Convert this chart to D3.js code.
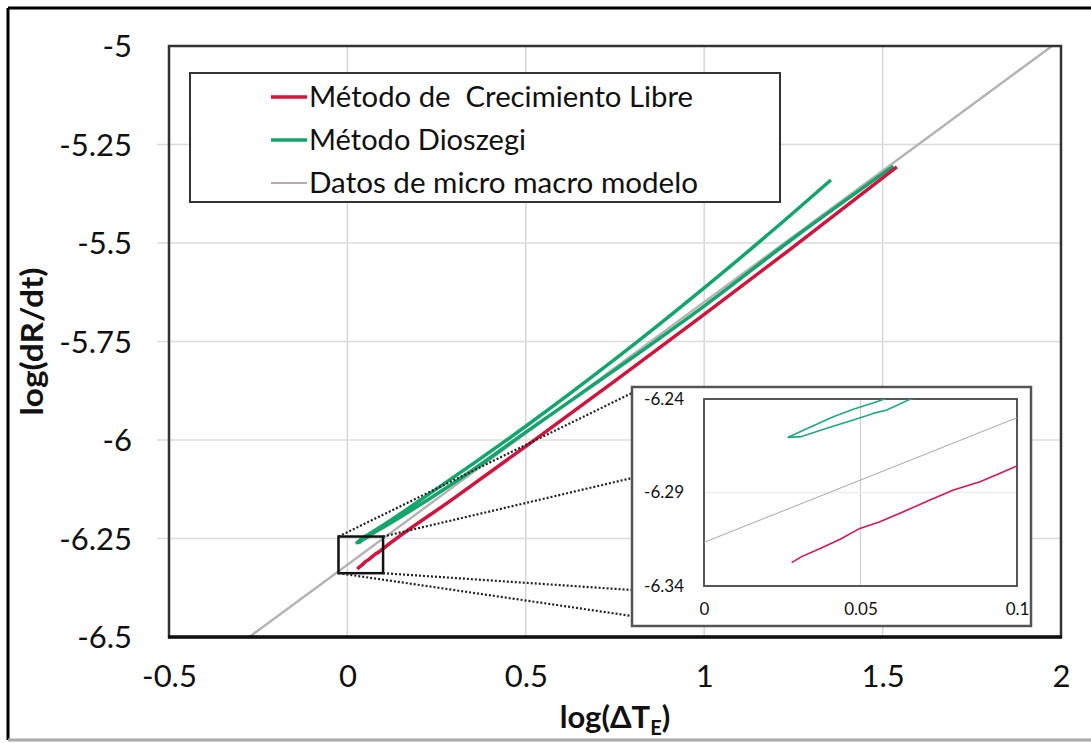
<!DOCTYPE html>
<html>
<head>
<meta charset="utf-8">
<script src="https://cdn.jsdelivr.net/npm/d3@7"></script>
<style>
  html, body { margin: 0; padding: 0; background: #fff; }
  svg { display: block; }
  text { font-family: Lato, "Open Sans", sans-serif; fill: #111; }
</style>
</head>
<body>
<svg id="chart" width="1091" height="743"></svg>
<script>
// ---------- DATA ----------
const seriesNames = ["Método de  Crecimiento Libre", "Método Dioszegi", "Datos de micro macro modelo"];

const xTickValues = [-0.5, 0, 0.5, 1, 1.5, 2];
const xTickLabels = ["-0.5", "0", "0.5", "1", "1.5", "2"];
const yTickValues = [-5, -5.25, -5.5, -5.75, -6, -6.25, -6.5];
const yTickLabels = ["-5", "-5.25", "-5.5", "-5.75", "-6", "-6.25", "-6.5"];

const insetXTickValues = [0, 0.05, 0.1];
const insetXTickLabels = ["0", "0.05", "0.1"];
const insetYTickValues = [-6.24, -6.29, -6.34];
const insetYTickLabels = ["-6.24", "-6.29", "-6.34"];

// Método de Crecimiento Libre (red)
const libreX = [0.028, 0.0312, 0.0371, 0.0435, 0.0498, 0.0562, 0.0637, 0.0722, 0.0797, 0.0882, 0.0946, 0.1, 0.3, 0.5, 0.75, 1.0, 1.25, 1.54];
const libreY = [-6.3275, -6.3243, -6.3199, -6.315, -6.3092, -6.3056, -6.3003, -6.294, -6.2887, -6.2842, -6.2797, -6.2758, -6.147, -6.016, -5.850, -5.681, -5.510, -5.307];

// Método Dioszegi (green) – a loop: lower branch down to the tip, then upper branch
const dioszegiX = [1.53, 1.25, 1.0, 0.75, 0.5, 0.3, 0.1, 0.0658, 0.0584, 0.0541, 0.0477, 0.0392, 0.0312, 0.0269, 0.0307, 0.0413, 0.0477, 0.0552, 0.25, 0.5, 0.75, 1.0, 1.2, 1.355];
const dioszegiY = [-5.305, -5.488, -5.66, -5.822, -5.98, -6.108, -6.222, -6.2402, -6.2459, -6.2477, -6.2512, -6.2557, -6.2601, -6.2605, -6.2575, -6.2495, -6.2455, -6.2415, -6.124, -5.965, -5.795, -5.614, -5.462, -5.34];

// Datos de micro macro modelo (gray)
const modeloX = [-0.275, 1.975];
const modeloY = [-6.5, -5.0];

// zoom window drawn on the main chart
const zoomBoxX = [-0.025, 0.1];
const zoomBoxY = [-6.338, -6.245];

// ---------- DRAW ----------
const svg = d3.select("#chart");
const W = 1091, H = 743;
const colors = { libre: "#d0143c", dios: "#13a56c", modelo: "#b3b3b3" };

// outer frame
svg.append("line").attr("x1", 8).attr("y1", 8).attr("x2", W).attr("y2", 8).attr("stroke", "#000").attr("stroke-width", 3);
svg.append("line").attr("x1", 8).attr("y1", 8).attr("x2", 8).attr("y2", 740).attr("stroke", "#000").attr("stroke-width", 3);
svg.append("line").attr("x1", 8).attr("y1", 740).attr("x2", W).attr("y2", 740).attr("stroke", "#aaa").attr("stroke-width", 3);

const x = d3.scaleLinear().domain([-0.5, 2]).range([169, 1061]);
const y = d3.scaleLinear().domain([-6.5, -5]).range([637, 46]);

// gridlines
const grid = svg.append("g");
grid.selectAll("line.v").data(xTickValues.filter(v => v > -0.5 && v < 2)).enter().append("line")
  .attr("x1", d => x(d)).attr("x2", d => x(d)).attr("y1", y(-5)).attr("y2", y(-6.5))
  .attr("stroke", "#d6d6d6").attr("stroke-width", 1.5);
grid.selectAll("line.h").data(yTickValues.filter(v => v > -6.5 && v < -5)).enter().append("line")
  .attr("x1", x(-0.5) - 12).attr("x2", x(2)).attr("y1", d => y(d)).attr("y2", d => y(d))
  .attr("stroke", "#dcdcdc").attr("stroke-width", 1.5);

// axes
const yAxis = d3.axisLeft(y).tickValues(yTickValues).tickFormat((d, i) => yTickLabels[i]).tickSize(0).tickPadding(37);
const gy = svg.append("g").attr("transform", `translate(${x(-0.5)},0)`).call(yAxis);
gy.select(".domain").remove();
gy.selectAll("text").style("font-size", "31px").style("font-family", "Lato, sans-serif").attr("fill", "#111").attr("dy", "0.35em");

const xAxis = d3.axisBottom(x).tickValues(xTickValues).tickFormat((d, i) => xTickLabels[i]).tickSize(0).tickPadding(39);
const gx = svg.append("g").attr("transform", `translate(0,${y(-6.5)})`).call(xAxis);
gx.select(".domain").remove();
gx.selectAll("text").style("font-size", "31px").style("font-family", "Lato, sans-serif").attr("fill", "#111").attr("dy", "0.35em");

// axis titles
const xt = svg.append("text").attr("x", 615).attr("y", 728).attr("text-anchor", "middle")
  .style("font-size", "31px").style("font-weight", "bold");
xt.append("tspan").text("log(ΔT");
xt.append("tspan").text("E").style("font-size", "20px").attr("dy", 7);
xt.append("tspan").text(")").attr("dy", -7);

svg.append("text").attr("transform", `translate(43,${(y(-5) + y(-6.5)) / 2}) rotate(-90)`)
  .attr("text-anchor", "middle").style("font-size", "30px").style("font-weight", "bold")
  .attr("textLength", 148).attr("lengthAdjust", "spacingAndGlyphs").text("log(dR/dt)");

// series
const line = d3.line().x(d => x(d[0])).y(d => y(d[1]));
const zipPts = (xs, ys) => xs.map((v, i) => [v, ys[i]]);

const clipMain = svg.append("clipPath").attr("id", "clipMain");
clipMain.append("rect").attr("x", x(-0.5)).attr("y", y(-5)).attr("width", x(2) - x(-0.5)).attr("height", y(-6.5) - y(-5));
const plot = svg.append("g").attr("clip-path", "url(#clipMain)");

plot.append("path").datum(zipPts(modeloX, modeloY)).attr("d", line)
  .attr("fill", "none").attr("stroke", colors.modelo).attr("stroke-width", 2.4);
plot.append("path").datum(zipPts(dioszegiX, dioszegiY)).attr("d", d3.line().x(d => x(d[0])).y(d => y(d[1])).curve(d3.curveMonotoneY))
  .attr("fill", "none").attr("stroke", colors.dios).attr("stroke-width", 3.5).attr("stroke-linejoin", "round");
plot.append("path").datum(zipPts(libreX, libreY)).attr("d", d3.line().x(d => x(d[0])).y(d => y(d[1])).curve(d3.curveMonotoneX))
  .attr("fill", "none").attr("stroke", colors.libre).attr("stroke-width", 3.5).attr("stroke-linejoin", "round");

// plot border
svg.append("rect").attr("x", x(-0.5)).attr("y", y(-5)).attr("width", x(2) - x(-0.5)).attr("height", y(-6.5) - y(-5))
  .attr("fill", "none").attr("stroke", "#333").attr("stroke-width", 2.5);
svg.append("line").attr("x1", x(-0.5) - 1).attr("x2", x(2) + 1).attr("y1", y(-6.5)).attr("y2", y(-6.5))
  .attr("stroke", "#111").attr("stroke-width", 3.5);

// zoom box on main chart
const zb = { x0: x(zoomBoxX[0]), x1: x(zoomBoxX[1]), y0: y(zoomBoxY[1]), y1: y(zoomBoxY[0]) };
svg.append("rect").attr("x", zb.x0).attr("y", zb.y0).attr("width", zb.x1 - zb.x0).attr("height", zb.y1 - zb.y0)
  .attr("fill", "none").attr("stroke", "#111").attr("stroke-width", 2.5);

// inset layout
const inset = { ox: 632, oy: 387, ow: 399, oh: 239 };
const ix = d3.scaleLinear().domain([0, 0.1]).range([704, 1017]);
const iy = d3.scaleLinear().domain([-6.34, -6.24]).range([586, 399]);

// dotted connectors
const connectors = [
  [[zb.x0, zb.y0], [inset.ox, inset.oy + 6]],
  [[zb.x1, zb.y0], [inset.ox, inset.oy + 91]],
  [[zb.x1, zb.y1], [inset.ox, inset.oy + 203]],
  [[zb.x0, zb.y1], [inset.ox, inset.oy + 229]]
];
svg.selectAll("line.conn").data(connectors).enter().append("line")
  .attr("x1", d => d[0][0]).attr("y1", d => d[0][1]).attr("x2", d => d[1][0]).attr("y2", d => d[1][1])
  .attr("stroke", "#222").attr("stroke-width", 2.2).attr("stroke-dasharray", "2,2");

// inset box
svg.append("rect").attr("x", inset.ox).attr("y", inset.oy).attr("width", inset.ow).attr("height", inset.oh)
  .attr("fill", "#fff").attr("stroke", "#555").attr("stroke-width", 2.5);

const ig = svg.append("g");
ig.append("line").attr("x1", ix(0.05)).attr("x2", ix(0.05)).attr("y1", iy(-6.24)).attr("y2", iy(-6.34))
  .attr("stroke", "#cfcfcf").attr("stroke-width", 1.2);
ig.append("line").attr("x1", ix(0)).attr("x2", ix(0.1)).attr("y1", iy(-6.29)).attr("y2", iy(-6.29))
  .attr("stroke", "#eeeeee").attr("stroke-width", 1.5);

const iclip = svg.append("clipPath").attr("id", "clipInset");
iclip.append("rect").attr("x", ix(0)).attr("y", iy(-6.24)).attr("width", ix(0.1) - ix(0)).attr("height", iy(-6.34) - iy(-6.24));
const iplot = svg.append("g").attr("clip-path", "url(#clipInset)");
const iline = d3.line().x(d => ix(d[0])).y(d => iy(d[1]));
iplot.append("path").datum(zipPts(modeloX, modeloY)).attr("d", iline)
  .attr("fill", "none").attr("stroke", "#a8a8a8").attr("stroke-width", 1);
iplot.append("path").datum(zipPts(dioszegiX, dioszegiY)).attr("d", iline)
  .attr("fill", "none").attr("stroke", "#1fa883").attr("stroke-width", 1.6).attr("stroke-linejoin", "round");
iplot.append("path").datum(zipPts(libreX, libreY)).attr("d", iline)
  .attr("fill", "none").attr("stroke", "#d41852").attr("stroke-width", 1.6).attr("stroke-linejoin", "round");

ig.append("rect").attr("x", ix(0)).attr("y", iy(-6.24)).attr("width", ix(0.1) - ix(0)).attr("height", iy(-6.34) - iy(-6.24))
  .attr("fill", "none").attr("stroke", "#444").attr("stroke-width", 1.8);

const iyAxis = d3.axisLeft(iy).tickValues(insetYTickValues).tickFormat((d, i) => insetYTickLabels[i]).tickSize(0).tickPadding(20);
const giy = svg.append("g").attr("transform", `translate(${ix(0)},0)`).call(iyAxis);
giy.select(".domain").remove();
giy.selectAll("text").style("font-size", "17px").style("font-family", "Lato, sans-serif").attr("fill", "#222");

const ixAxis = d3.axisBottom(ix).tickValues(insetXTickValues).tickFormat((d, i) => insetXTickLabels[i]).tickSize(0).tickPadding(23);
const gix = svg.append("g").attr("transform", `translate(0,${iy(-6.34)})`).call(ixAxis);
gix.select(".domain").remove();
gix.selectAll("text").style("font-size", "17px").style("font-family", "Lato, sans-serif").attr("fill", "#222").attr("dy", "0.35em");

// legend
const lg = svg.append("g");
lg.append("rect").attr("x", 190).attr("y", 73).attr("width", 590).attr("height", 129)
  .attr("fill", "#fff").attr("stroke", "#333").attr("stroke-width", 2);
const legendColors = [colors.libre, colors.dios, "#b9a9ae"];
const legendWidths = [3.5, 3.5, 2];
const legendTextLen = [384, 217, 389];
const rows = lg.selectAll("g.row").data(seriesNames).enter().append("g")
  .attr("transform", (d, i) => `translate(0,${97 + i * 43})`);
rows.append("line").attr("x1", 271).attr("x2", 307).attr("y1", 0).attr("y2", 0)
  .attr("stroke", (d, i) => legendColors[i]).attr("stroke-width", (d, i) => legendWidths[i]);
rows.append("text").attr("x", 309).attr("y", 0).attr("dy", "0.35em")
  .attr("textLength", (d, i) => legendTextLen[i]).attr("lengthAdjust", "spacingAndGlyphs")
  .style("font-size", "28px").style("white-space", "pre").text(d => d);
</script>
</body>
</html>
